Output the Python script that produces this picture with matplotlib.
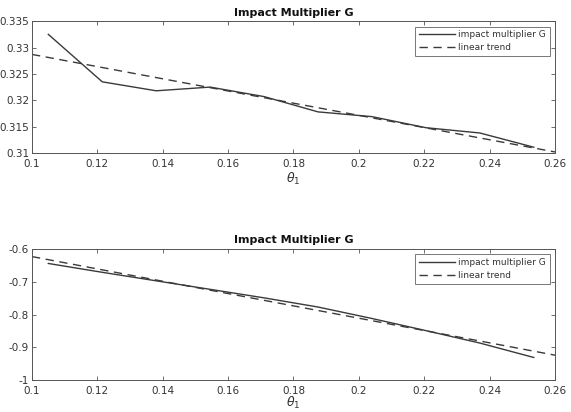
import matplotlib
matplotlib.use("Agg")
import matplotlib.pyplot as plt
import numpy as np

theta = [0.105, 0.1215, 0.138, 0.1545, 0.171, 0.1875, 0.204, 0.2205, 0.237, 0.2535]
mult_top = [0.3325, 0.3235, 0.3218, 0.3225, 0.3207, 0.3178, 0.3169, 0.3148, 0.3138, 0.3111]
trend_top_x = [0.1, 0.26]
trend_top_y = [0.3287, 0.3102]

mult_bot = [-0.644, -0.671, -0.697, -0.723, -0.749, -0.777, -0.812, -0.849, -0.887, -0.931]
trend_bot_x = [0.1, 0.26]
trend_bot_y = [-0.623, -0.924]

xticks = [0.1, 0.12, 0.14, 0.16, 0.18, 0.2, 0.22, 0.24, 0.26]
xticklabels = ["0.1", "0.12", "0.14", "0.16", "0.18", "0.2", "0.22", "0.24", "0.26"]
yticks_top = [0.31, 0.315, 0.32, 0.325, 0.33, 0.335]
yticklabels_top = ["0.31", "0.315", "0.32", "0.325", "0.33", "0.335"]
yticks_bot = [-1, -0.9, -0.8, -0.7, -0.6]
yticklabels_bot = ["-1", "-0.9", "-0.8", "-0.7", "-0.6"]

title = "Impact Multiplier G"
labels = ["impact multiplier G", "linear trend"]

fig = plt.figure(figsize=(5.71, 4.12), dpi=100)
ax1 = fig.add_axes([0.056, 0.6286, 0.916, 0.320])
ax2 = fig.add_axes([0.056, 0.0775, 0.916, 0.318])

line_col = "#3a3a3a"
axis_col = "#555555"
text_col = "#333333"

def style(ax, yt, ytl, ylim, lpad):
    ax.set_xlim(0.1, 0.26)
    ax.set_ylim(*ylim)
    ax.set_xticks(xticks)
    ax.set_xticklabels(xticklabels)
    ax.set_yticks(yt)
    ax.set_yticklabels(ytl)
    ax.tick_params(direction="in", top=True, right=True, length=3, width=0.6,
                   colors=axis_col, labelcolor=text_col, labelsize=7.5)
    ax.tick_params(axis="x", pad=4.5)
    ax.tick_params(axis="y", pad=2)
    for s in ax.spines.values():
        s.set_color(axis_col)
        s.set_linewidth(0.7)
    ax.set_title(title, fontsize=8, fontweight="bold", color="#111111", pad=4)
    ax.set_xlabel(r"$\theta_1$", fontsize=9, color=text_col, labelpad=lpad)

ax1.plot(theta, mult_top, color=line_col, lw=1.0, label=labels[0])
ax1.plot(trend_top_x, trend_top_y, color=line_col, lw=1.0, ls=(0, (6, 4)), label=labels[1])
style(ax1, yticks_top, yticklabels_top, (0.31, 0.335), 1)

ax2.plot(theta, mult_bot, color=line_col, lw=1.0, label=labels[0])
ax2.plot(trend_bot_x, trend_bot_y, color=line_col, lw=1.0, ls=(0, (6, 4)), label=labels[1])
style(ax2, yticks_bot, yticklabels_bot, (-1, -0.6), -1)

for ax in (ax1, ax2):
    leg = ax.legend(loc="upper right", fontsize=6.5, frameon=True, fancybox=False,
                    edgecolor=axis_col, handlelength=4.0, borderpad=0.4,
                    labelspacing=0.45, handletextpad=0.4, borderaxespad=0.6)
    leg.get_frame().set_linewidth(0.7)
    for t in leg.get_texts():
        t.set_color(text_col)

fig.savefig("out.png", dpi=100)
